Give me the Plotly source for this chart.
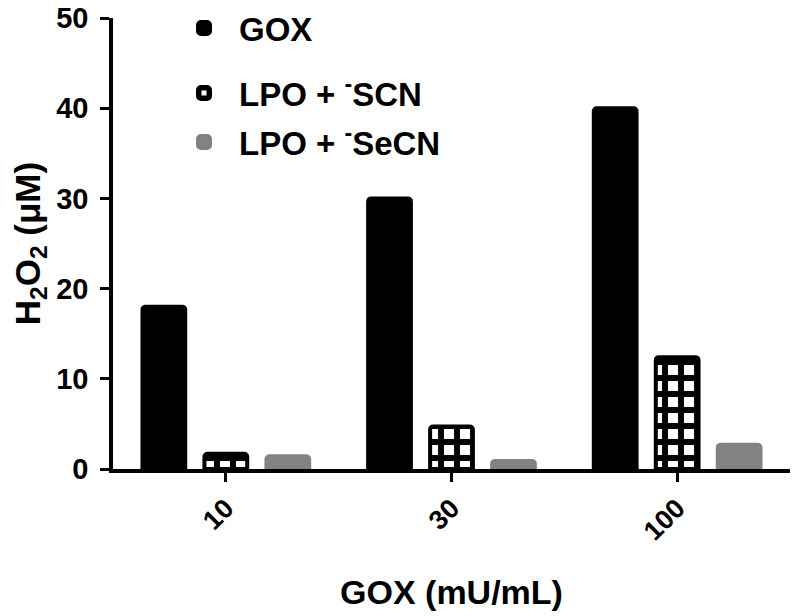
import plotly.graph_objects as go

categories = ["10", "30", "100"]
gox = [18.0, 30.0, 40.0]
lpo_scn = [1.7, 4.7, 12.4]
lpo_secn = [1.4, 0.9, 2.7]

series_names = ["GOX", "LPO + <sup>-</sup>SCN", "LPO + <sup>-</sup>SeCN"]
y_ticks = [0, 10, 20, 30, 40, 50]

FONT = "Arial, 'Liberation Sans', Helvetica, sans-serif"
W, H = 800, 616
# page body adds an 8px offset; plot area should land at screen x 113..790, y 18..469
OFF = 8
ML, MT = 113 - OFF, 18 - OFF
MR = W - (790 - OFF)
MB = H - (469 - OFF)
PX0, PX1, PY0, PY1 = 113, 790, 18, 469

fig = go.Figure()
fig.add_trace(go.Bar(
    x=categories, y=gox, name=series_names[0],
    marker=dict(color="black", line=dict(color="black", width=4), cornerradius=3),
    legend="legend",
))
fig.add_trace(go.Bar(
    x=categories, y=lpo_scn, name=series_names[1],
    marker=dict(color="black", line=dict(color="black", width=4), cornerradius=3,
                pattern=dict(shape="+", fgcolor="black", bgcolor="white",
                             size=16, solidity=0.6, fillmode="replace")),
    legend="legend2",
))
fig.add_trace(go.Bar(
    x=categories, y=lpo_secn, name=series_names[2],
    marker=dict(color="#828282", line=dict(color="#828282", width=4), cornerradius=3),
    legend="legend3",
))

def leg(px, py):
    return dict(
        x=(px - PX0) / (PX1 - PX0), y=(PY1 - py) / (PY1 - PY0), xref="paper", yref="paper",
        xanchor="left", yanchor="middle",
        font=dict(family=FONT, size=33, color="black", weight="bold"),
        bgcolor="rgba(0,0,0,0)", borderwidth=0, itemwidth=60,
    )

fig.update_layout(
    width=W, height=H,
    margin=dict(l=ML, r=MR, t=MT, b=MB, autoexpand=False),
    paper_bgcolor="white", plot_bgcolor="white",
    barmode="group", bargap=0.176, bargroupgap=0.31,
    showlegend=True,
    legend=leg(169, 28), legend2=leg(169, 93), legend3=leg(169, 142),
    font=dict(family=FONT, color="black"),
)

fig.update_xaxes(
    type="category", range=[-0.5, 2.5],
    showline=True, linecolor="black", linewidth=3.5,
    ticks="outside", ticklen=9, tickwidth=3, tickcolor="black",
    tickangle=-45, showgrid=False, zeroline=False, automargin=True,
    ticklabeloverflow="allow",
    tickfont=dict(family=FONT, size=27, color="black", weight="bold"),
    title=dict(text="GOX (mU/mL)", font=dict(family=FONT, size=34, color="black", weight="bold"),
               standoff=36),
)
fig.update_yaxes(
    range=[0, 50], tickvals=y_ticks,
    showline=True, linecolor="black", linewidth=3.5,
    ticks="outside", ticklen=9, tickwidth=3, tickcolor="black",
    showgrid=False, zeroline=False, ticklabelstandoff=6, automargin=True,
    ticklabeloverflow="allow",
    tickfont=dict(family=FONT, size=29, color="black", weight="bold"),
    title=dict(text="H<sub>2</sub>O<sub>2</sub> (μM)",
               font=dict(family=FONT, size=35, color="black", weight="bold"), standoff=35),
)

fig.write_html("out.html")
